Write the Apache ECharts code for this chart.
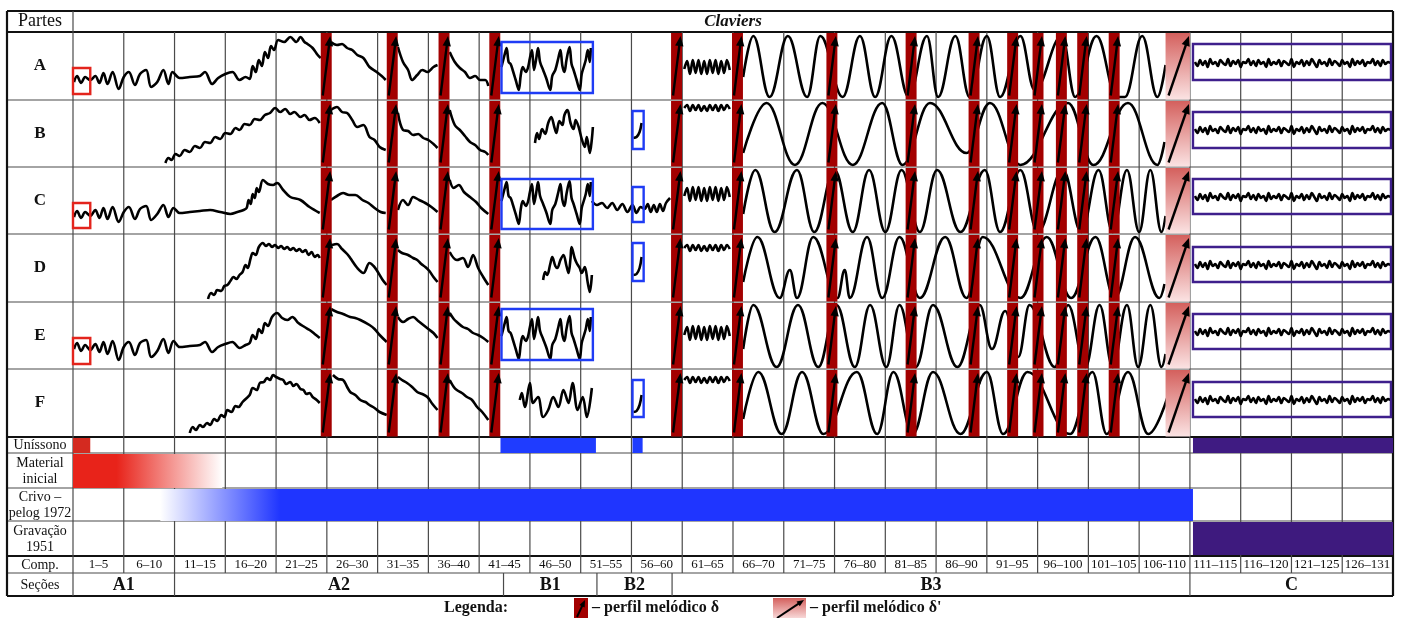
<!DOCTYPE html>
<html>
<head>
<meta charset="utf-8">
<script src="https://cdn.jsdelivr.net/npm/echarts@6.0.0/dist/echarts.min.js"></script>
<style>
  html, body { margin: 0; padding: 0; background: #fff; }
  #main { width: 1404px; height: 618px; }
</style>
</head>
<body>
<div id="main"></div>
<script>
// ---- data (x = measures elapsed, level = height of the contour inside its row) ----
var comp = ['1–5','6–10','11–15','16–20','21–25','26–30','31–35','36–40','41–45','46–50',
  '51–55','56–60','61–65','66–70','71–75','76–80','81–85','86–90','91–95','96–100',
  '101–105','106-110','111–115','116–120','121–125','126–131'];
var parts = ['A','B','C','D','E','F'];
var extraRows = ['Uníssono', 'Material\ninicial', 'Crivo –\npelog 1972', 'Gravação\n1951'];
var sectionNames = ['A1','A2','B1','B2','B3','C'];
var sectionEdges = [0, 10, 42.4, 51.6, 59, 110, 130];

// melodic profile delta (bar starts, in measures) and delta' span
var deltaBars = [24.4, 30.9, 36.0, 41.0, 58.9, 64.9, 74.2, 82.0, 88.2, 92.0, 94.5, 96.8, 98.9, 102.0];
var deltaPrime = [107.6, 110];

// boxes: [row, from, to, lowLevel, highLevel]
var redBoxes = [[0, 0, 1.7, 6, 32], [2, 0, 1.7, 6, 31], [4, 0, 1.7, 5, 31]];
var blueBoxes = [[0, 42.2, 51.2, 7, 58], [2, 42.2, 51.2, 5, 55], [4, 42.2, 51.2, 9, 60],
  [1, 55.1, 56.2, 18, 56], [2, 55.1, 56.2, 12, 47], [3, 55.1, 56.2, 21, 59], [5, 55.1, 56.2, 20, 57]];
var purpleBoxes = [[0, 110.3, 129.8, 20, 56], [1, 110.3, 129.8, 19, 55], [2, 110.3, 129.8, 20, 55],
  [3, 110.3, 129.8, 20, 55], [4, 110.3, 129.8, 20, 55], [5, 110.3, 129.8, 20, 55]];

// lower rows
var unisono = [[0, 1.7, 'red'], [42.1, 51.5, 'blue'], [55.1, 56.1, 'blue'], [110.3, 130, 'purple']];
var materialInicial = [0, 4.3, 14.7];   // solid until 4.3, fades out at 14.7
var crivo = [8.6, 20.4, 110.3];         // fades in from 8.6, solid from 20.4
var gravacao = [110.3, 130];

// contours A1/A2 per row
var profA = [
  [[0.1,18],[0.4,24],[0.8,17],[1.2,23],[1.7,20],[2.2,24],[2.6,17],[3.0,27],[3.4,16],[3.9,28],[4.5,11],[5.0,23],[5.5,28],[6.1,15],[6.6,26],[7.2,30],[7.7,13],[8.3,18],[8.9,30],[9.4,16],[9.8,28],[10.5,22],[11.5,23],[12.5,24],[13.0,28],[13.7,16],[14.3,22],[15.0,26],[15.7,28],[16.4,20],[17.0,23],[17.4,21],[17.7,34],[18.0,28],[18.3,40],[18.6,34],[18.9,48],[19.2,42],[19.5,54],[19.8,50],[20.2,60],[20.8,58],[21.4,63],[22.0,58],[22.4,63],[22.8,58],[23.1,56],[23.6,52],[24.1,45],[24.4,42]],
  [[25.4,58],[26.0,55],[26.5,56],[27.0,52],[27.5,50],[28.0,45],[28.6,42],[29.2,33],[29.9,28],[30.4,24],[30.8,20]],
  [[32.0,53],[32.5,38],[33.0,30],[33.4,20],[33.9,25],[34.4,30],[34.9,28],[35.5,33],[35.9,35]],
  [[37.1,48],[37.6,38],[38.1,32],[38.6,28],[39.1,22],[39.6,24],[40.1,20],[40.6,20],[40.9,14]]
];
var profB = [
  [[9.1,4],[9.4,9],[9.7,7],[10.1,13],[10.5,11],[11.0,17],[11.5,15],[12.0,21],[12.5,19],[13.0,25],[13.5,24],[14.0,30],[14.5,28],[15.0,34],[15.5,33],[16.0,39],[16.4,37],[16.9,43],[17.4,42],[17.9,48],[18.4,47],[18.9,52],[19.4,54],[19.9,59],[20.4,55],[20.9,58],[21.4,53],[21.8,55],[22.4,50],[22.8,52],[23.3,47],[23.8,49],[24.3,44]],
  [[25.4,57],[26.0,60],[26.5,55],[27.0,54],[27.5,47],[28.0,40],[28.6,42],[29.2,30],[29.7,27],[30.2,20],[30.8,17]],
  [[32.0,54],[32.5,37],[33.0,36],[33.5,32],[34.0,33],[34.5,29],[35.0,27],[35.5,23],[35.9,19]],
  [[37.1,57],[37.6,42],[38.1,37],[38.6,31],[39.1,25],[39.6,22],[40.1,17],[40.6,15],[40.9,12]]
];
var profC = [
  [[0.1,17],[0.4,23],[0.8,16],[1.2,22],[1.7,18],[2.2,24],[2.6,16],[3.0,26],[3.4,15],[3.9,27],[4.5,12],[5.0,22],[5.5,27],[6.1,15],[6.6,25],[7.2,28],[7.7,14],[8.3,20],[8.9,29],[9.4,17],[9.9,26],[10.5,21],[11.5,22],[12.5,23],[13.5,24],[14.5,22],[15.5,20],[16.2,22],[16.8,24],[17.1,26],[17.3,34],[17.5,30],[17.7,40],[17.9,36],[18.1,46],[18.3,42],[18.7,54],[19.2,50],[19.7,49],[20.1,51],[20.7,44],[21.4,37],[22.4,34],[23.3,27],[24.3,21]],
  [[25.4,34],[26.0,38],[26.6,41],[27.2,39],[27.8,39],[28.5,34],[29.1,31],[29.7,26],[30.3,22],[30.8,21]],
  [[32.0,24],[32.5,34],[33.0,29],[33.5,37],[34.1,34],[34.7,31],[35.3,27],[35.9,22]],
  [[37.1,54],[37.5,46],[38.0,49],[38.5,42],[39.1,37],[39.7,32],[40.2,26],[40.9,20]],
  [[51.1,33],[51.6,29],[52.1,31],[52.6,26],[53.1,31],[53.6,24],[54.1,30],[54.6,22],[55.1,29],[55.5,21],[55.9,27],[56.3,25],[56.6,30],[56.9,22],[57.2,29],[57.5,22],[57.8,30],[58.1,23],[58.4,31],[58.8,36]]
];
var profD = [
  [[13.3,3],[13.6,9],[13.9,7],[14.2,12],[14.6,11],[14.9,16],[15.2,17],[15.5,21],[15.8,25],[16.1,23],[16.4,27],[16.7,30],[17.0,37],[17.2,34],[17.5,44],[17.7,49],[18.0,47],[18.3,55],[18.7,59],[19.0,56],[19.3,58],[19.6,55],[19.9,57],[20.2,54],[20.5,56],[20.8,53],[21.1,55],[21.4,52],[21.7,54],[22.0,51],[22.3,53],[22.6,50],[22.9,52],[23.2,47],[23.5,50],[23.8,45],[24.1,47],[24.3,44]],
  [[25.5,57],[26.0,58],[26.5,53],[27.0,48],[27.3,44],[28.0,34],[28.6,29],[29.2,39],[29.6,36],[29.9,32],[30.5,22],[30.9,17]],
  [[32.0,52],[32.4,49],[33.0,47],[33.5,44],[33.9,42],[34.3,38],[34.7,35],[35.1,31],[35.5,25],[35.9,20]],
  [[37.1,50],[37.8,42],[38.4,44],[38.9,35],[39.4,47],[39.9,34],[40.4,25],[40.9,17]]
];
var profE = [
  [[0.1,20],[0.4,26],[0.8,18],[1.2,24],[1.7,19],[2.2,25],[2.6,17],[3.0,27],[3.4,15],[3.9,28],[4.5,9],[5.0,22],[5.5,27],[6.1,14],[6.6,26],[7.2,29],[7.7,12],[8.3,18],[8.9,30],[9.4,16],[9.9,28],[10.5,22],[11.5,23],[12.5,24],[13.0,27],[13.7,17],[14.3,22],[15.0,25],[15.7,27],[16.4,21],[17.0,24],[17.4,26],[17.7,34],[18.0,30],[18.3,40],[18.6,36],[18.9,46],[19.2,43],[19.6,52],[20.1,56],[20.6,51],[21.1,49],[21.6,52],[22.2,46],[22.8,42],[23.3,39],[23.8,35],[24.3,31]],
  [[25.4,60],[26.0,57],[26.6,55],[27.3,52],[27.8,51],[28.3,49],[29.2,44],[29.7,40],[30.2,34],[30.9,27]],
  [[32.0,52],[32.5,47],[33.0,50],[33.5,52],[34.0,48],[34.5,44],[35.0,40],[35.5,36],[35.9,31]],
  [[37.1,56],[37.5,50],[37.8,47],[38.4,42],[38.9,40],[39.4,36],[39.9,34],[40.4,31],[40.9,27]]
];
var profF = [
  [[11.5,4],[11.8,10],[12.1,7],[12.5,12],[12.8,10],[13.2,14],[13.5,12],[13.9,18],[14.2,16],[14.6,22],[14.9,20],[15.2,27],[15.6,25],[16.0,31],[16.3,30],[16.7,35],[17.0,38],[17.4,42],[17.7,49],[18.1,47],[18.4,54],[18.8,55],[19.1,59],[19.4,57],[19.7,62],[20.0,60],[20.4,58],[20.7,57],[21.0,53],[21.4,55],[21.7,51],[22.0,53],[22.4,48],[22.7,47],[23.0,43],[23.3,44],[23.6,40],[24.0,37],[24.3,34]],
  [[25.6,62],[26.1,58],[26.6,57],[27.0,50],[27.3,45],[27.8,42],[28.3,37],[28.8,35],[29.2,32],[29.7,29],[30.2,25],[30.9,22]],
  [[32.0,60],[32.4,57],[32.9,54],[33.4,50],[33.9,45],[34.4,43],[34.9,40],[35.4,33],[35.9,27]],
  [[37.1,57],[37.5,50],[37.8,47],[38.3,44],[38.8,40],[39.3,37],[39.8,30],[40.3,25],[40.9,17]]
];

// B1 / B2 material
var b1Wide = [[42.2,33],[42.5,45],[42.7,52],[42.9,38],[43.1,36],[43.3,30],[43.6,20],[43.9,10],[44.1,25],[44.3,33],[44.6,28],[44.8,32],[45.0,42],[45.2,50],[45.4,30],[45.6,40],[45.8,52],[46.0,38],[46.3,30],[46.6,22],[47.0,10],[47.2,24],[47.5,30],[47.8,42],[48.0,50],[48.2,34],[48.4,28],[48.6,40],[48.9,53],[49.1,36],[49.3,30],[49.6,20],[49.9,10],[50.1,26],[50.3,33],[50.5,40],[50.7,50],[50.9,38],[51.0,52]];
var b1B = [[45.5,24],[45.7,34],[45.9,28],[46.2,38],[46.5,33],[46.8,44],[47.1,50],[47.4,40],[47.6,34],[47.9,46],[48.2,42],[48.4,52],[48.7,57],[49.0,44],[49.3,38],[49.5,47],[49.8,40],[50.1,28],[50.4,20],[50.6,30],[50.9,14],[51.1,28],[51.2,40]];
var b1D = [[46.3,22],[46.5,30],[46.7,27],[47.0,38],[47.2,45],[47.5,36],[47.7,34],[48.0,42],[48.3,47],[48.6,36],[48.8,29],[49.0,44],[49.1,55],[49.4,44],[49.6,39],[49.9,34],[50.1,29],[50.4,35],[50.7,19],[50.9,10],[51.1,27]];
var b1F = [[44.0,37],[44.2,44],[44.5,30],[45.0,54],[45.3,34],[45.8,40],[46.3,20],[46.8,27],[47.3,40],[47.8,30],[48.3,47],[48.8,34],[49.2,54],[49.7,27],[50.2,40],[50.6,20],[51.1,49]];
var b2B = [[55.2,29],[55.5,30],[55.8,35],[56.0,44]];
var b2D = [[55.2,27],[55.5,28],[55.8,34],[56.0,45]];
var b2F = [[55.2,25],[55.5,26],[55.8,32],[56.0,42]];

// measures 61-65 trill band (offsets from the row base)
var bandStart = 60.2, bandStep = 0.28;
var bandBig = [-2,6,-7,7,-6,7,-7,6,-7,7,-6,7,-7,6,-6,7,-3];
var bandSmall = [0,3,-3,3,-2,3,-3,2,-3,3,-2,3,-3,3,-2,3,-1];
var bandBase = [33, 59, 40, 54, 36, 57];
var bandKind = ['big','small','big','small','big','small'];

// B3 waves (turning points)
var sineA = [[66.0,23],[67.0,64],[68.6,3],[70.4,64],[72.3,3],[73.6,64],[75.8,3],[77.5,64],[79.0,3],[80.6,64],[82.3,3],[84.1,64],[85.2,3],[86.9,64],[88.3,3],[90.0,64],[91.3,3],[93.3,64],[94.7,10],[97.4,64],[98.7,3],[100.8,64],[102.8,3],[103.6,3],[105.3,64],[106.8,3],[107.6,35]];
var sineB = [[66.0,14],[68.3,64],[71.1,2],[73.8,64],[76.8,2],[79.7,64],[81.7,2],[84.4,64],[88.0,14],[90.3,64],[93.3,2],[98.0,64],[100.5,2],[103.9,64],[106.8,2],[107.5,25]];
var sineC = [[66.0,20],[67.2,64],[69.1,2],[71.3,64],[73.0,2],[75.0,64],[76.8,2],[78.4,64],[80.0,2],[81.6,64],[83.4,2],[85.1,64],[87.4,2],[89.8,64],[91.3,2],[93.3,64],[95.0,2],[97.5,64],[99.3,2],[101.0,64],[102.4,2],[103.8,64],[105.0,2],[106.1,64],[107.2,2],[107.6,18]];
var sineD = [[66.0,20],[67.4,65],[69.6,4],[70.6,32],[71.3,4],[72.9,65],[75.3,4],[76.0,32],[76.5,4],[78.2,65],[79.7,4],[81.4,65],[83.4,4],[85.9,65],[88.0,4],[89.6,65],[93.3,4],[95.9,65],[98.3,4],[100.7,65],[102.6,4],[104.6,65],[107.0,4],[107.5,18]];
var sineE = [[66.0,20],[67.0,64],[69.3,2],[71.4,64],[73.4,2],[75.2,64],[77.0,2],[78.5,64],[80.1,2],[81.4,64],[83.0,2],[84.7,64],[87.1,2],[89.3,64],[90.5,20],[91.8,58],[93.1,12],[94.2,64],[96.7,2],[98.0,64],[99.7,2],[101.1,64],[102.4,2],[103.8,64],[104.9,2],[106.1,64],[107.2,2],[107.6,15]];
var sineF = [[66.0,18],[67.5,65],[69.8,3],[71.8,65],[73.9,3],[77.2,65],[79.2,3],[80.8,65],[82.7,3],[84.7,65],[87.4,3],[90.0,65],[91.6,3],[94.0,65],[98.2,3],[100.4,65],[101.8,3],[103.9,65],[105.9,3],[107.8,40]];

// section C texture (same in every row)
var cStart = 110.5, cStep = 0.25;
var cNoise = [38,34,40,35,39,33,41,36,38,34,40,37,35,41,34,39,36,40,33,38,
  37,41,35,39,34,40,36,38,33,41,35,38,36,40,34,39,37,35,41,33,
  38,36,40,34,39,35,41,37,33,40,36,38,34,41,35,39,37,34,40,36,
  38,33,41,35,39,36,40,34,38,37,41,35,39,34,40,36,38,37];

// ---- layout ----
var rowLines = [0, 21, 89, 156, 223, 291, 358, 426, 442, 477, 510, 545, 562, 585];
var thickRows = [0, 1, 7, 11, 13];
var X0 = -6.5, X1 = 130;
var SERIF = "'Liberation Serif', 'DejaVu Serif', serif";
var DARKRED = '#a30000';

function rowTop(r) { return rowLines[r + 1]; }
function rowBottom(r) { return rowLines[r + 2]; }

function expand(start, step, vals, base) {
  return vals.map(function (v, i) { return [start + i * step, base + v]; });
}

var wiggleSegs = [
  profA.concat([b1Wide]),
  profB.concat([b1B, b2B]),
  profC.concat([b1Wide]),
  profD.concat([b1D, b2D]),
  profE.concat([b1Wide]),
  profF.concat([b1F, b2F])
];
var sines = [sineA, sineB, sineC, sineD, sineE, sineF];

function toRow(seg, r) {
  return seg.map(function (p) { return [p[0], rowBottom(r) - p[1]]; });
}
function joinSegs(list) {
  var out = [];
  list.forEach(function (s) { out = out.concat(s); out.push(['-', '-']); });
  return out;
}

var wiggleData = [], sineData = [];
parts.forEach(function (p, r) {
  var segs = wiggleSegs[r].map(function (s) { return toRow(s, r); });
  var band = expand(bandStart, bandStep, bandKind[r] === 'big' ? bandBig : bandSmall, bandBase[r]);
  segs.push(toRow(band, r));
  segs.push(toRow(expand(cStart, cStep, cNoise, 0), r));
  wiggleData = wiggleData.concat(joinSegs(segs));
  sineData = sineData.concat(joinSegs([toRow(sines[r], r)]));
});

// ---- helpers for custom layers ----
function layer(id, items, draw, z) {
  return {
    type: 'custom', id: id, z: z, silent: true, clip: false,
    data: items.map(function (it, i) { return [i]; }),
    renderItem: function (params, api) { return draw(items[params.dataIndex], api); }
  };
}
function arrowEls(x0, y0, x1, y1, w, head) {
  var dx = x1 - x0, dy = y1 - y0, len = Math.sqrt(dx * dx + dy * dy);
  var ux = dx / len, uy = dy / len;
  var bx = x1 - ux * head, by = y1 - uy * head, hw = head * 0.42;
  return [
    { type: 'line', shape: { x1: x0, y1: y0, x2: bx + ux, y2: by + uy }, style: { stroke: '#000', lineWidth: w } },
    { type: 'polygon', shape: { points: [[x1, y1], [bx - uy * hw, by + ux * hw], [bx + uy * hw, by - ux * hw]] }, style: { fill: '#000' } }
  ];
}

// table lines [x1, y1, x2, y2, thick]
var tableLines = [];
rowLines.forEach(function (y, i) { tableLines.push([X0, y, X1, y, thickRows.indexOf(i) >= 0 ? 1 : 0]); });
tableLines.push([X0, 0, X0, 585, 1], [X1, 0, X1, 585, 1], [0, 0, 0, 585, 0]);
for (var c = 1; c < comp.length; c++) tableLines.push([c * 5, 21, c * 5, 562, 0]);
sectionEdges.slice(1, -1).forEach(function (x) { tableLines.push([x, 562, x, 585, 0]); });

// filled rectangles [x1, y1, x2, y2, fill]
var fills = [];
var uniColors = { red: '#d42a20', blue: '#1f3cff', purple: '#3f1b82' };
unisono.forEach(function (u) { fills.push([u[0], rowLines[7] + 1, u[1], rowLines[8], uniColors[u[2]]]); });
fills.push([materialInicial[0], rowLines[8] + 1, materialInicial[2], rowLines[9],
  new echarts.graphic.LinearGradient(0, 0, 1, 0, [
    { offset: 0, color: '#e8231a' },
    { offset: materialInicial[1] / materialInicial[2], color: '#e8231a' },
    { offset: 1, color: 'rgba(255,255,255,1)' }])]);
fills.push([crivo[0], rowLines[9] + 1, crivo[2], rowLines[10],
  new echarts.graphic.LinearGradient(0, 0, 1, 0, [
    { offset: 0, color: 'rgba(255,255,255,1)' },
    { offset: (crivo[1] - crivo[0]) / (crivo[2] - crivo[0]), color: '#1f35ff' },
    { offset: 1, color: '#1f35ff' }])]);
fills.push([gravacao[0], rowLines[10] + 1, gravacao[1], rowLines[11] - 1, '#3e1a7e']);

// delta bars in every part row
var bars = [];
parts.forEach(function (p, r) {
  deltaBars.forEach(function (x) { bars.push([x, r, 'd']); });
  bars.push([deltaPrime[0], r, 'p']);
});

// outlined boxes
var boxes = [];
redBoxes.forEach(function (b) { boxes.push(b.concat(['#e3241c'])); });
blueBoxes.forEach(function (b) { boxes.push(b.concat(['#1f3cf5'])); });
purpleBoxes.forEach(function (b) { boxes.push(b.concat(['#3e1f8c'])); });

// texts [x, y, text, font]
var texts = [];
texts.push([X0 / 2, 10.5, 'Partes', '18px ' + SERIF]);
texts.push([65, 10.5, 'Claviers', 'italic bold 17px ' + SERIF]);
parts.forEach(function (p, r) { texts.push([X0 / 2, (rowTop(r) + rowBottom(r)) / 2, p, 'bold 17px ' + SERIF]); });
extraRows.forEach(function (t, i) { texts.push([X0 / 2, (rowLines[7 + i] + rowLines[8 + i]) / 2 + 0.5, t, '14px ' + SERIF]); });
texts.push([X0 / 2, 554, 'Comp.', '14px ' + SERIF]);
comp.forEach(function (t, i) { texts.push([i * 5 + 2.5, 554, t, '13px ' + SERIF]); });
texts.push([X0 / 2, 574, 'Seções', '14px ' + SERIF]);
sectionNames.forEach(function (t, i) { texts.push([(sectionEdges[i] + sectionEdges[i + 1]) / 2, 574.5, t, 'bold 18px ' + SERIF]); });

// ---- legend (below the table) ----
function legendArrow(x0, y0, x1, y1) {
  return arrowEls(x0, y0, x1, y1, 2, 7).map(function (e) { e.z = 10; return e; });
}
var legend = [
  { type: 'text', x: 476, y: 608, style: { text: 'Legenda:', font: 'bold 16px ' + SERIF, fill: '#111', align: 'center', verticalAlign: 'middle' } },
  { type: 'rect', shape: { x: 574, y: 598, width: 14, height: 22 }, style: { fill: DARKRED } },
  { type: 'group', children: legendArrow(577, 617, 585, 600) },
  { type: 'text', x: 592, y: 608, style: { text: '– perfil melódico δ', font: 'bold 16px ' + SERIF, fill: '#111', align: 'left', verticalAlign: 'middle' } },
  { type: 'rect', shape: { x: 773, y: 598, width: 33, height: 22 },
    style: { fill: new echarts.graphic.LinearGradient(0, 0, 0, 1, [{ offset: 0, color: '#d4605d' }, { offset: 1, color: '#fbe3e3' }]) } },
  { type: 'group', children: legendArrow(777, 618, 804, 600) },
  { type: 'text', x: 810, y: 608, style: { text: "– perfil melódico δ'", font: 'bold 16px ' + SERIF, fill: '#111', align: 'left', verticalAlign: 'middle' } }
];

var chart = echarts.init(document.getElementById('main'), null, { renderer: 'canvas' });
chart.setOption({
  animation: false,
  backgroundColor: '#fff',
  grid: { left: 7, right: 11, top: 11, bottom: 22 },
  xAxis: { type: 'value', min: X0, max: X1, show: false },
  yAxis: { type: 'value', min: 0, max: 585, inverse: true, show: false },
  graphic: legend,
  series: [
    layer('fills', fills, function (f, api) {
      var a = api.coord([f[0], f[1]]), b = api.coord([f[2], f[3]]);
      return { type: 'rect', shape: { x: a[0], y: a[1], width: b[0] - a[0], height: b[1] - a[1] }, style: { fill: f[4] } };
    }, 4),
    layer('table', tableLines, function (l, api) {
      var a = api.coord([l[0], l[1]]), b = api.coord([l[2], l[3]]);
      return { type: 'line', shape: { x1: a[0], y1: a[1], x2: b[0], y2: b[1] },
        style: { stroke: l[4] ? '#111' : '#4a4a4a', lineWidth: l[4] ? 2.2 : 1.2 } };
    }, 2),
    {
      type: 'line', name: 'contours', data: wiggleData, symbol: 'none', smooth: 0.35,
      connectNulls: false, silent: true, z: 5,
      lineStyle: { color: '#000', width: 2.6 }
    },
    {
      type: 'line', name: 'waves', data: sineData, symbol: 'none', smooth: 0.4, smoothMonotone: 'x',
      connectNulls: false, silent: true, z: 5,
      lineStyle: { color: '#000', width: 2.6 }
    },
    layer('bars', bars, function (d, api) {
      var r = d[1];
      var w = d[2] === 'd' ? 1.08 : deltaPrime[1] - deltaPrime[0];
      var a = api.coord([d[0], rowTop(r) + 1]), b = api.coord([d[0] + w, rowBottom(r) - 0.5]);
      var fill = d[2] === 'd' ? DARKRED :
        new echarts.graphic.LinearGradient(0, 0, 0, 1, [{ offset: 0, color: '#d4605d' }, { offset: 1, color: '#fbe3e3' }]);
      var kids = [{ type: 'rect', shape: { x: a[0], y: a[1], width: b[0] - a[0], height: b[1] - a[1] }, style: { fill: fill } }];
      var arr = d[2] === 'd' ? arrowEls(a[0] + 2, b[1] - 4, b[0] - 1.5, a[1] + 3, 2.4, 10)
                             : arrowEls(a[0] + 3, b[1] - 4, b[0] - 1, a[1] + 3, 2.4, 10);
      return { type: 'group', children: kids.concat(arr) };
    }, 7),
    layer('boxes', boxes, function (b, api) {
      var r = b[0];
      var a = api.coord([b[1], rowBottom(r) - b[4]]), c = api.coord([b[2], rowBottom(r) - b[3]]);
      return { type: 'rect', shape: { x: a[0], y: a[1], width: c[0] - a[0], height: c[1] - a[1] },
        style: { fill: 'none', stroke: b[5], lineWidth: 2.4 } };
    }, 8),
    layer('texts', texts, function (t, api) {
      var p = api.coord([t[0], t[1]]);
      return { type: 'text', x: p[0], y: p[1],
        style: { text: t[2], font: t[3], fill: '#111', align: 'center', verticalAlign: 'middle', lineHeight: 16 } };
    }, 9)
  ]
});
</script>
</body>
</html>
